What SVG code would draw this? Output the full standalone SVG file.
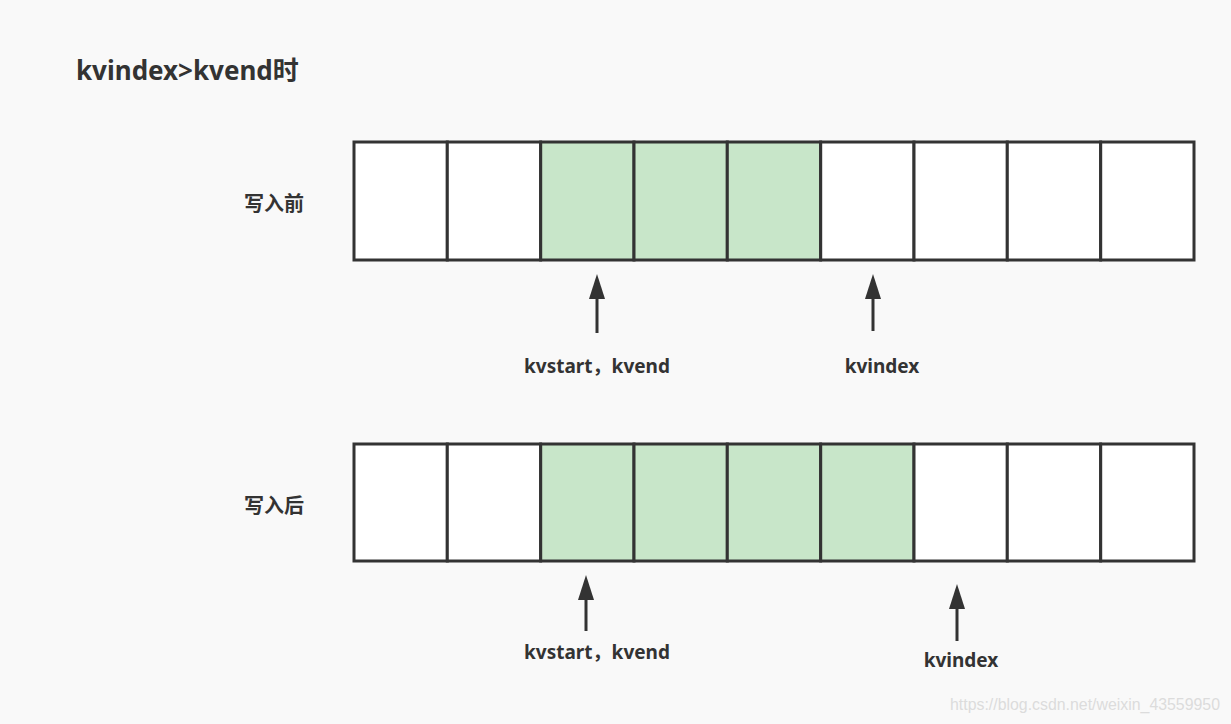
<svg xmlns="http://www.w3.org/2000/svg" width="1231" height="724" viewBox="0 0 1231 724">
<style>
.t{font-family:"Noto Sans","Noto Sans CJK SC",sans-serif;font-weight:bold;fill:#333;}
.c{stroke:#333;stroke-width:3;fill:#fff;}
.g{fill:#c8e6c9;}
.a{stroke:#333;stroke-width:3;fill:none;}
</style>
<rect width="1231" height="724" fill="#f9f9f9"/>
<text class="t" x="76" y="80" font-size="26">kvindex&gt;kvend时</text>
<g id="row1">
<text class="t" x="274" y="211" font-size="20" text-anchor="middle">写入前</text>
<rect class="c" x="354" y="142" width="93.3" height="118"/>
<rect class="c" x="447.3" y="142" width="93.3" height="118"/>
<rect class="c g" x="540.7" y="142" width="93.3" height="118"/>
<rect class="c g" x="634" y="142" width="93.3" height="118"/>
<rect class="c g" x="727.3" y="142" width="93.3" height="118"/>
<rect class="c" x="820.7" y="142" width="93.3" height="118"/>
<rect class="c" x="914" y="142" width="93.3" height="118"/>
<rect class="c" x="1007.3" y="142" width="93.3" height="118"/>
<rect class="c" x="1100.7" y="142" width="93.3" height="118"/>
</g>
<g id="row2">
<text class="t" x="274" y="513" font-size="20" text-anchor="middle">写入后</text>
<rect class="c" x="354" y="444" width="93.3" height="117"/>
<rect class="c" x="447.3" y="444" width="93.3" height="117"/>
<rect class="c g" x="540.7" y="444" width="93.3" height="117"/>
<rect class="c g" x="634" y="444" width="93.3" height="117"/>
<rect class="c g" x="727.3" y="444" width="93.3" height="117"/>
<rect class="c g" x="820.7" y="444" width="93.3" height="117"/>
<rect class="c" x="914" y="444" width="93.3" height="117"/>
<rect class="c" x="1007.3" y="444" width="93.3" height="117"/>
<rect class="c" x="1100.7" y="444" width="93.3" height="117"/>
</g>
<g id="connectors">
<path d="M597,333 V298" class="a"/><path d="M589,299 L597,274 L605,299 Z" fill="#333"/>
<path d="M873,331 V298" class="a"/><path d="M865,299 L873,274 L881,299 Z" fill="#333"/>
<path d="M586,631 V599" class="a"/><path d="M578,600 L586,575 L594,600 Z" fill="#333"/>
<path d="M957,641 V608" class="a"/><path d="M949,609 L957,584 L965,609 Z" fill="#333"/>
</g>
<g id="labels">
<text class="t" x="597" y="373" font-size="19" text-anchor="middle">kvstart，kvend</text>
<text class="t" x="882" y="373" font-size="19" text-anchor="middle">kvindex</text>
<text class="t" x="597" y="659" font-size="19" text-anchor="middle">kvstart，kvend</text>
<text class="t" x="961" y="667" font-size="19" text-anchor="middle">kvindex</text>
</g>
<text x="950" y="710" font-family="Liberation Sans, Arial, sans-serif" font-size="16" fill="#dcdcdc" textLength="270" lengthAdjust="spacingAndGlyphs">https://blog.csdn.net/weixin_43559950</text>
</svg>
